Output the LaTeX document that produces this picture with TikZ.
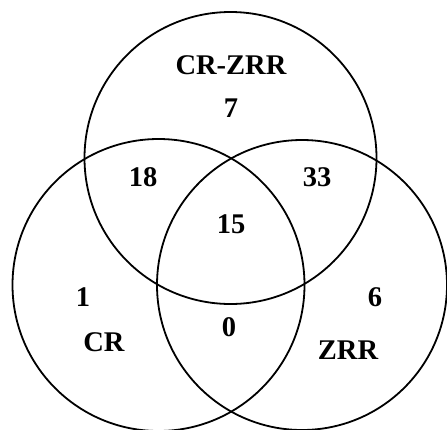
\documentclass[tikz,border=0pt]{standalone}
\usepackage{fontspec}
\setmainfont{Liberation Serif}
\begin{document}
\begin{tikzpicture}[x=1pt,y=-1pt,
  ring/.style={draw=black,line width=1.8pt},
  lbl/.style={font=\fontsize{28.5}{32}\selectfont\bfseries,text=black,inner sep=0pt,anchor=center}]
\path[use as bounding box] (0,0) rectangle (447,429);
\clip (0,0) rectangle (447,429);
\fill[white] (0,0) rectangle (447,429);
\node[ring,circle,minimum size=292pt,inner sep=0pt] (top) at (230.5,158) {};
\node[ring,circle,minimum size=292pt,inner sep=0pt] (left) at (158.5,285) {};
\node[ring,circle,minimum size=290pt,inner sep=0pt] (right) at (302,285) {};
\node[lbl] (tname) at (231,65) {CR-ZRR};
\node[lbl] (t7) at (231,108) {7};
\node[lbl] (n18) at (143,177) {18};
\node[lbl] (n33) at (317,177) {33};
\node[lbl] (n15) at (231,224) {15};
\node[lbl] (n1) at (83,297) {1};
\node[lbl] (lname) at (104,342) {CR};
\node[lbl] (n0) at (229,327) {0};
\node[lbl] (n6) at (375,297) {6};
\node[lbl] (rname) at (348,350) {ZRR};
\end{tikzpicture}
\end{document}
